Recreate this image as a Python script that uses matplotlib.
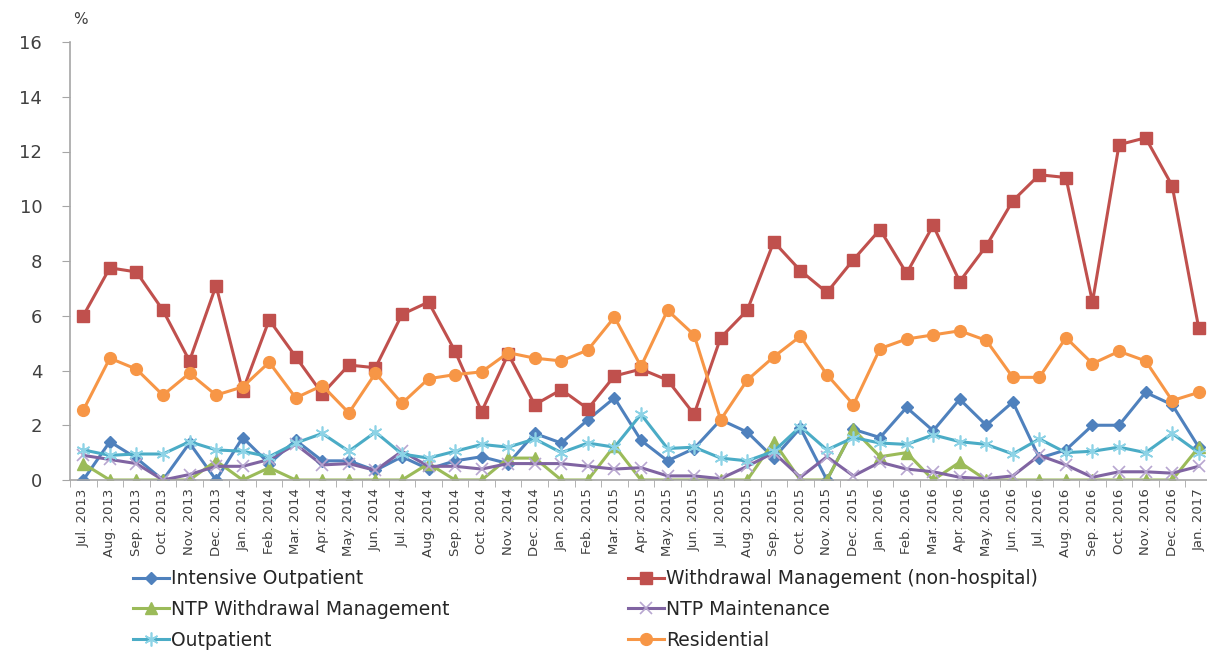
import numpy as np
import matplotlib
matplotlib.use('Agg')
import matplotlib.pyplot as plt

# monthly series, Jul 2013 - Jan 2017
months = ['Jul. 2013', 'Aug. 2013', 'Sep. 2013', 'Oct. 2013', 'Nov. 2013', 'Dec. 2013',
          'Jan. 2014', 'Feb. 2014', 'Mar. 2014', 'Apr. 2014', 'May. 2014', 'Jun. 2014',
          'Jul. 2014', 'Aug. 2014', 'Sep. 2014', 'Oct. 2014', 'Nov. 2014', 'Dec. 2014',
          'Jan. 2015', 'Feb. 2015', 'Mar. 2015', 'Apr. 2015', 'May. 2015', 'Jun. 2015',
          'Jul. 2015', 'Aug. 2015', 'Sep. 2015', 'Oct. 2015', 'Nov. 2015', 'Dec. 2015',
          'Jan. 2016', 'Feb. 2016', 'Mar. 2016', 'Apr. 2016', 'May. 2016', 'Jun. 2016',
          'Jul. 2016', 'Aug. 2016', 'Sep. 2016', 'Oct. 2016', 'Nov. 2016', 'Dec. 2016',
          'Jan. 2017']

intensive_op = [0.0, 1.4, 0.8, 0.0, 1.35, 0.0, 1.55, 0.6, 1.45, 0.7, 0.7, 0.35,
                0.85, 0.4, 0.7, 0.85, 0.6, 1.7, 1.35, 2.2, 3.0, 1.45, 0.7, 1.15,
                2.2, 1.75, 0.8, 1.9, 0.0, 1.85, 1.55, 2.65, 1.8, 2.95, 2.0, 2.85,
                0.8, 1.1, 2.0, 2.0, 3.2, 2.75, 1.2]
withdrawal = [6.0, 7.75, 7.6, 6.2, 4.35, 7.1, 3.25, 5.85, 4.5, 3.15, 4.2, 4.1,
              6.05, 6.5, 4.7, 2.5, 4.6, 2.75, 3.3, 2.6, 3.8, 4.05, 3.65, 2.4,
              5.2, 6.2, 8.7, 7.65, 6.85, 8.05, 9.15, 7.55, 9.3, 7.25, 8.55, 10.2,
              11.15, 11.05, 6.5, 12.25, 12.5, 10.75, 5.55]
ntp_withdrawal = [0.6, 0, 0, 0, 0, 0.7, 0, 0.45, 0, 0, 0, 0,
                  0, 0.6, 0, 0, 0.8, 0.8, 0, 0, 1.25, 0, 0, 0,
                  0, 0, 1.4, 0, 0, 1.85, 0.85, 1.0, 0, 0.65, 0, 0,
                  0, 0, 0, 0, 0, 0, 1.2]
ntp_maint = [0.9, 0.75, 0.6, 0.0, 0.2, 0.5, 0.5, 0.75, 1.3, 0.55, 0.6, 0.35,
             1.05, 0.5, 0.5, 0.4, 0.6, 0.6, 0.6, 0.5, 0.4, 0.45, 0.15, 0.15,
             0.05, 0.5, 1.0, 0.1, 0.85, 0.15, 0.65, 0.4, 0.3, 0.1, 0.05, 0.15,
             0.9, 0.55, 0.1, 0.3, 0.3, 0.25, 0.5]
outpatient = [1.1, 0.9, 0.95, 0.95, 1.4, 1.1, 1.05, 0.85, 1.35, 1.7, 1.05, 1.75,
              0.95, 0.8, 1.05, 1.3, 1.2, 1.5, 1.0, 1.35, 1.2, 2.4, 1.15, 1.2,
              0.8, 0.7, 1.05, 1.95, 1.1, 1.55, 1.35, 1.3, 1.65, 1.4, 1.3, 0.95,
              1.5, 1.0, 1.05, 1.2, 1.0, 1.7, 1.0]
residential = [2.55, 4.45, 4.05, 3.1, 3.9, 3.1, 3.4, 4.3, 3.0, 3.45, 2.45, 3.9,
               2.8, 3.7, 3.85, 3.95, 4.65, 4.45, 4.35, 4.75, 5.95, 4.15, 6.2, 5.3,
               2.2, 3.65, 4.5, 5.25, 3.85, 2.75, 4.8, 5.15, 5.3, 5.45, 5.1, 3.75,
               3.75, 5.2, 4.25, 4.7, 4.35, 2.9, 3.2]

x = np.arange(len(months))

fig = plt.figure(figsize=(12.07, 6.54), dpi=100)
ax = fig.add_axes([70 / 1207, 1 - 480 / 654, 1142 / 1207, 438 / 654])

l1, = ax.plot(x, intensive_op, color='#4F81BD', lw=2.2, marker='D', ms=6.5, label='Intensive Outpatient')
l2, = ax.plot(x, withdrawal, color='#C0504D', lw=2.2, marker='s', ms=8.5,
              label='Withdrawal Management (non-hospital)')
l3, = ax.plot(x, ntp_withdrawal, color='#9BBB59', lw=2.2, marker='^', ms=8.5, label='NTP Withdrawal Management')
l4, = ax.plot(x, ntp_maint, color='#8064A2', lw=2.2, marker='x', ms=8, mec='#B7A6D0', mew=1.2,
              label='NTP Maintenance')
l5, = ax.plot(x, outpatient, color='#4BACC6', lw=2.2, marker=(6, 2, 0), ms=10, mec='#8DD3E6', mew=1.2,
              label='Outpatient')
l6, = ax.plot(x, residential, color='#F79646', lw=2.2, marker='o', ms=8.5, label='Residential')

ax.set_xlim(-0.5, len(months) - 0.5)
ax.set_ylim(0, 16)
ax.set_yticks(range(0, 17, 2))
ax.tick_params(axis='y', labelsize=13, length=6, color='#A6A6A6', colors='#404040', pad=14)
ax.set_xticks(x)
ax.set_xticklabels(months, rotation=90, fontsize=9.5, color='#404040')
ax.set_xticks(np.arange(-0.5, len(months), 1), minor=True)
ax.tick_params(axis='x', which='major', length=0, pad=6)
ax.tick_params(axis='x', which='minor', length=5, color='#A6A6A6')

for side in ['top', 'right']:
    ax.spines[side].set_visible(False)
for side in ['left', 'bottom']:
    ax.spines[side].set_color('#A6A6A6')
    ax.spines[side].set_linewidth(1.2)

fig.text(80 / 1207, 1 - 20 / 654, '%', fontsize=11, color='#404040', ha='center', va='center')

leg_kw = dict(frameon=False, fontsize=13.5, handlelength=1.9, handletextpad=0.1,
              labelspacing=0.62, borderpad=0, labelcolor='#262626')
fig.legend(handles=[l1, l3, l5], loc='upper left', bbox_to_anchor=(124 / 1207, 1 - 560 / 654), **leg_kw)
fig.legend(handles=[l2, l4, l6], loc='upper left', bbox_to_anchor=(619 / 1207, 1 - 560 / 654), **leg_kw)

fig.savefig('out.png', dpi=100)
